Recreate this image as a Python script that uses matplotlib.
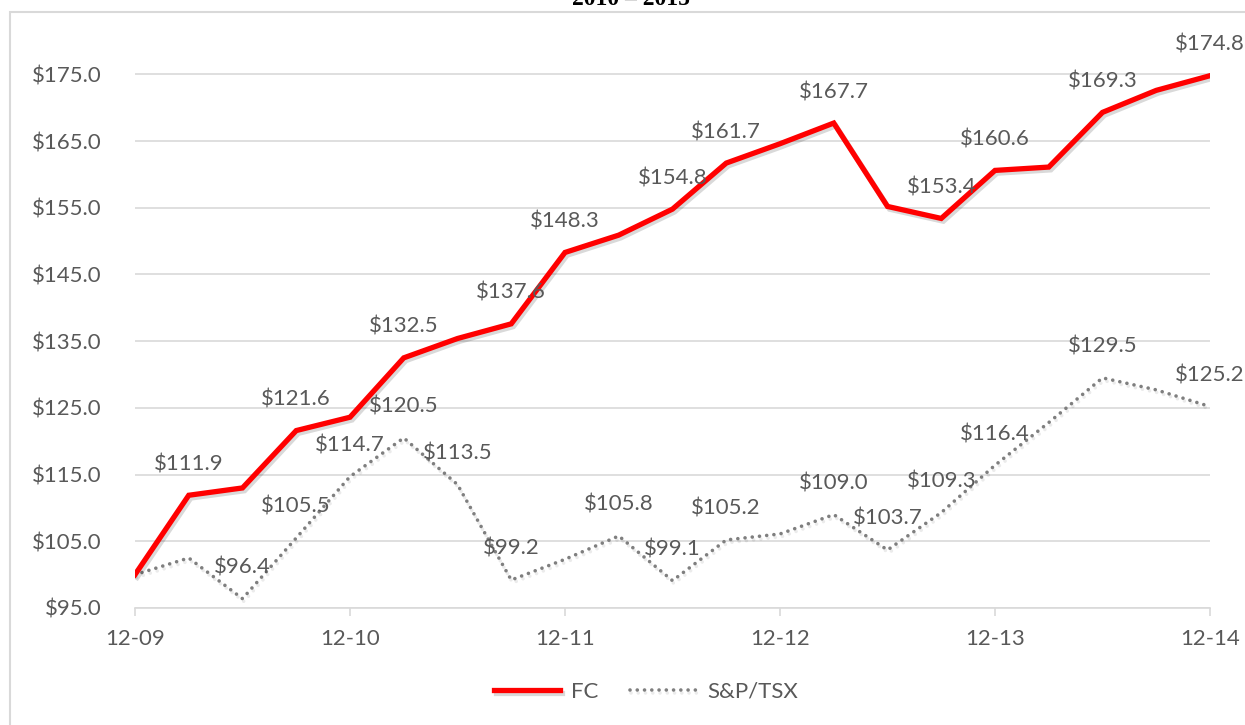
import matplotlib.pyplot as plt
import matplotlib.patheffects as pe

# quarterly index values, 12-09 .. 12-14
quarters = list(range(21))
tick_pos = [0, 4, 8, 12, 16, 20]
tick_labels = ["12-09", "12-10", "12-11", "12-12", "12-13", "12-14"]

fc = [100.0, 111.9, 113.0, 121.6, 123.6, 132.5, 135.4, 137.6, 148.3, 150.9, 154.8,
      161.7, 164.6, 167.7, 155.2, 153.4, 160.6, 161.1, 169.3, 172.6, 174.8]
tsx = [100.0, 102.5, 96.4, 105.5, 114.7, 120.5, 113.5, 99.2, 102.3, 105.8, 99.1,
       105.2, 106.1, 109.0, 103.7, 109.3, 116.4, 122.8, 129.5, 127.7, 125.2]

# which points carry a value label
fc_labelled = [1, 3, 5, 7, 8, 10, 11, 13, 15, 16, 18, 20]
tsx_labelled = [2, 3, 4, 5, 6, 7, 9, 10, 11, 13, 14, 15, 16, 18, 20]

txt = "#595959"
fs = 16
plt.rcParams["font.family"] = ["Lato", "DejaVu Sans"]

fig = plt.figure(figsize=(12.45, 7.25), dpi=100)

# chart frame and cut-off title
fig.patches.append(plt.Rectangle((10 / 1245, -0.1), 1.2, 1 - 12 / 725 + 0.1,
                                 transform=fig.transFigure, fill=False,
                                 edgecolor="#d9d9d9", linewidth=1.5))
fig.text(0.507, 1 - 5 / 725, "2010 – 2015", ha="center", va="baseline",
         fontsize=17, fontweight="bold", family="Liberation Serif")

ax = fig.add_axes([135 / 1245, 1 - 608 / 725, 1075 / 1245, 567 / 725])

shadow = [pe.SimpleLineShadow(offset=(1.5, -2), shadow_color="black", alpha=0.15),
          pe.Normal()]
ax.plot(quarters, fc, color="#ff0000", linewidth=3.8, label="FC",
        solid_joinstyle="miter", path_effects=shadow, zorder=4)
ax.plot(quarters, tsx, color="#7f7f7f", linewidth=2.6, linestyle=(0, (0.01, 2.0)),
        dash_capstyle="round", label="S&P/TSX", zorder=3,
        path_effects=[pe.SimpleLineShadow(offset=(1, -2), shadow_color="black", alpha=0.08),
                      pe.Normal()])

for i in fc_labelled:
    ax.annotate(f"${fc[i]:.1f}", (quarters[i], fc[i]), xytext=(0, 31),
                textcoords="offset pixels", ha="center", va="center",
                fontsize=fs, color=txt, annotation_clip=False, zorder=5)
for i in tsx_labelled:
    ax.annotate(f"${tsx[i]:.1f}", (quarters[i], tsx[i]), xytext=(0, 31),
                textcoords="offset pixels", ha="center", va="center",
                fontsize=fs, color=txt, annotation_clip=False, zorder=5)

ax.set_xlim(0, 20)
ax.set_ylim(95, 180)
ax.set_yticks(range(95, 176, 10))
ax.set_yticklabels([f"${v:.1f}" for v in range(95, 176, 10)])
ax.set_xticks(tick_pos)
ax.set_xticklabels(tick_labels)

ax.grid(axis="y", color="#d9d9d9", linewidth=1.2)
ax.set_axisbelow(True)
for s in ["top", "right", "left"]:
    ax.spines[s].set_visible(False)
ax.spines["bottom"].set_color("#d9d9d9")
ax.spines["bottom"].set_linewidth(1.2)
ax.tick_params(axis="y", length=0, pad=24, labelsize=fs, labelcolor=txt)
ax.tick_params(axis="x", length=6, width=1.2, color="#d9d9d9", pad=9,
               labelsize=fs, labelcolor=txt)

ax.legend(loc="center", bbox_to_anchor=(0.519, 1 - 692 / 725), bbox_transform=fig.transFigure,
          ncol=2, frameon=False, fontsize=fs, labelcolor=txt, handlelength=3.0,
          columnspacing=1.4, handletextpad=0.5)

fig.savefig("out.png", dpi=100)
